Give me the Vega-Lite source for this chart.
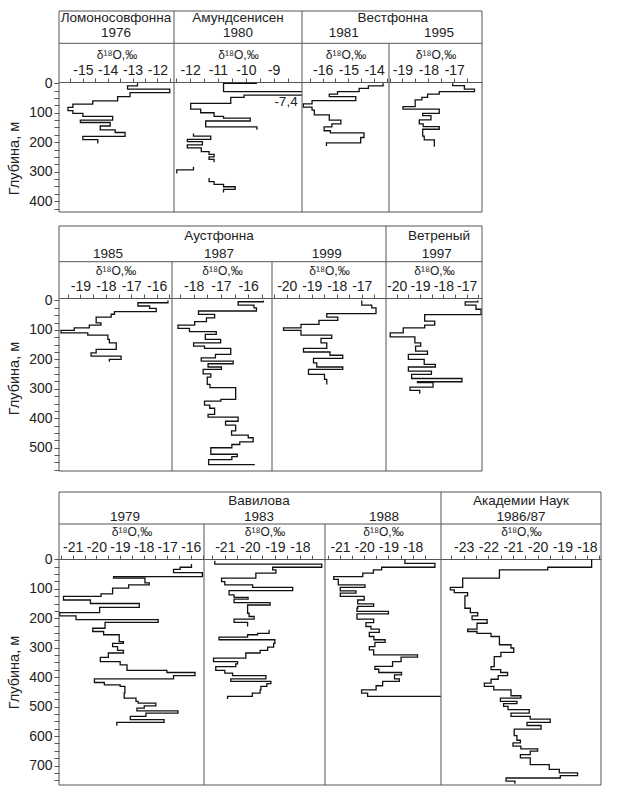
{
"$schema":"https://vega.github.io/schema/vega-lite/v6.json",
"padding":{"left":6,"top":10,"right":5,"bottom":5},
"data":{"values":[{}]},
"datasets":{"prof":[
{"p":"L76","s":1,"d":0,"v":-12.8},{"p":"L76","s":1,"d":9,"v":-13.2},{"p":"L76","s":1,"d":20,"v":-11.5},{"p":"L76","s":1,"d":32,"v":-13.1},{"p":"L76","s":1,"d":45,"v":-13.6},{"p":"L76","s":1,"d":60,"v":-14.6},{"p":"L76","s":1,"d":71,"v":-15.4},{"p":"L76","s":1,"d":82,"v":-15.6},{"p":"L76","s":1,"d":93,"v":-15.4},{"p":"L76","s":1,"d":102,"v":-15.0},{"p":"L76","s":1,"d":112,"v":-13.8},{"p":"L76","s":1,"d":125,"v":-15.1},{"p":"L76","s":1,"d":133,"v":-13.9},{"p":"L76","s":1,"d":145,"v":-14.3},{"p":"L76","s":1,"d":158,"v":-13.7},{"p":"L76","s":1,"d":167,"v":-13.3},{"p":"L76","s":1,"d":180,"v":-15.0},{"p":"L76","s":1,"d":191,"v":-14.4},{"p":"L76","s":1,"d":204,"v":-14.4},
{"p":"A80","s":1,"d":0,"v":-9.6},{"p":"A80","s":1,"d":0,"v":-10.8},{"p":"A80","s":1,"d":28,"v":-7.4},{"p":"A80","s":1,"d":40,"v":-10.06},{"p":"A80","s":1,"d":48,"v":-10.54},{"p":"A80","s":1,"d":68,"v":-11.98},{"p":"A80","s":1,"d":88,"v":-11.62},{"p":"A80","s":1,"d":100,"v":-11.14},{"p":"A80","s":1,"d":112,"v":-10.8},{"p":"A80","s":1,"d":118,"v":-9.84},{"p":"A80","s":1,"d":128,"v":-11.44},{"p":"A80","s":1,"d":148,"v":-9.6},{"p":"A80","s":1,"d":158,"v":-9.6},
{"p":"A80","s":2,"d":170,"v":-11.88},{"p":"A80","s":2,"d":179,"v":-11.26},{"p":"A80","s":2,"d":190,"v":-12.1},{"p":"A80","s":2,"d":198,"v":-11.56},{"p":"A80","s":2,"d":209,"v":-12.1},{"p":"A80","s":2,"d":219,"v":-11.6},{"p":"A80","s":2,"d":232,"v":-11.32},{"p":"A80","s":2,"d":241,"v":-11.14},{"p":"A80","s":2,"d":250,"v":-11.32},{"p":"A80","s":2,"d":258,"v":-11.14},{"p":"A80","s":2,"d":268,"v":-11.14},
{"p":"A80","s":3,"d":283,"v":-11.88},{"p":"A80","s":3,"d":294,"v":-12.48},{"p":"A80","s":3,"d":306,"v":-12.48},
{"p":"A80","s":4,"d":321,"v":-11.32},{"p":"A80","s":4,"d":334,"v":-11.14},{"p":"A80","s":4,"d":343,"v":-10.8},{"p":"A80","s":4,"d":351,"v":-10.38},{"p":"A80","s":4,"d":360,"v":-10.8},{"p":"A80","s":4,"d":371,"v":-10.8},
{"p":"W81","s":1,"d":0,"v":-13.65},{"p":"W81","s":1,"d":9,"v":-14.22},{"p":"W81","s":1,"d":17,"v":-14.58},{"p":"W81","s":1,"d":28,"v":-15.42},{"p":"W81","s":1,"d":37,"v":-15.74},{"p":"W81","s":1,"d":45,"v":-14.71},{"p":"W81","s":1,"d":59,"v":-16.41},{"p":"W81","s":1,"d":70,"v":-16.75},{"p":"W81","s":1,"d":81,"v":-16.41},{"p":"W81","s":1,"d":91,"v":-16.32},{"p":"W81","s":1,"d":107,"v":-15.74},{"p":"W81","s":1,"d":125,"v":-15.29},{"p":"W81","s":1,"d":138,"v":-15.64},{"p":"W81","s":1,"d":148,"v":-15.94},{"p":"W81","s":1,"d":161,"v":-15.7},{"p":"W81","s":1,"d":168,"v":-14.39},{"p":"W81","s":1,"d":184,"v":-14.52},{"p":"W81","s":1,"d":202,"v":-15.85},{"p":"W81","s":1,"d":213,"v":-15.85},
{"p":"W95","s":1,"d":0,"v":-17.06},{"p":"W95","s":1,"d":8,"v":-16.61},{"p":"W95","s":1,"d":20,"v":-16.22},{"p":"W95","s":1,"d":28,"v":-17.58},{"p":"W95","s":1,"d":37,"v":-18.03},{"p":"W95","s":1,"d":48,"v":-18.25},{"p":"W95","s":1,"d":56,"v":-18.51},{"p":"W95","s":1,"d":79,"v":-18.98},{"p":"W95","s":1,"d":88,"v":-17.58},{"p":"W95","s":1,"d":102,"v":-18.22},{"p":"W95","s":1,"d":110,"v":-17.9},{"p":"W95","s":1,"d":124,"v":-18.35},{"p":"W95","s":1,"d":138,"v":-18.2},{"p":"W95","s":1,"d":147,"v":-17.58},{"p":"W95","s":1,"d":156,"v":-18.22},{"p":"W95","s":1,"d":179,"v":-18.16},{"p":"W95","s":1,"d":192,"v":-17.77},{"p":"W95","s":1,"d":215,"v":-17.77},
{"p":"A85","s":1,"d":0,"v":-15.56},{"p":"A85","s":1,"d":8,"v":-16.74},{"p":"A85","s":1,"d":19,"v":-16.28},{"p":"A85","s":1,"d":27,"v":-16.02},{"p":"A85","s":1,"d":38,"v":-17.66},{"p":"A85","s":1,"d":47,"v":-17.79},{"p":"A85","s":1,"d":57,"v":-18.38},{"p":"A85","s":1,"d":76,"v":-18.19},{"p":"A85","s":1,"d":84,"v":-18.65},{"p":"A85","s":1,"d":93,"v":-19.24},{"p":"A85","s":1,"d":102,"v":-19.76},{"p":"A85","s":1,"d":110,"v":-18.71},{"p":"A85","s":1,"d":118,"v":-17.92},{"p":"A85","s":1,"d":132,"v":-17.86},{"p":"A85","s":1,"d":144,"v":-17.59},{"p":"A85","s":1,"d":166,"v":-18.38},{"p":"A85","s":1,"d":178,"v":-18.58},{"p":"A85","s":1,"d":189,"v":-17.4},{"p":"A85","s":1,"d":200,"v":-17.86},{"p":"A85","s":1,"d":208,"v":-17.86},
{"p":"A87","s":1,"d":0,"v":-15.45},{"p":"A87","s":1,"d":4.5,"v":-16.37},{"p":"A87","s":1,"d":16,"v":-15.79},{"p":"A87","s":1,"d":25,"v":-15.7},{"p":"A87","s":1,"d":36,"v":-17.82},{"p":"A87","s":1,"d":47.5,"v":-17.23},{"p":"A87","s":1,"d":59,"v":-17.53},{"p":"A87","s":1,"d":72,"v":-17.96},{"p":"A87","s":1,"d":84,"v":-18.57},{"p":"A87","s":1,"d":95,"v":-18.15},{"p":"A87","s":1,"d":106,"v":-17.17},{"p":"A87","s":1,"d":115,"v":-17.57},{"p":"A87","s":1,"d":132,"v":-17.01},{"p":"A87","s":1,"d":144,"v":-18.0},{"p":"A87","s":1,"d":155,"v":-17.6},{"p":"A87","s":1,"d":163,"v":-16.64},{"p":"A87","s":1,"d":183,"v":-17.2},{"p":"A87","s":1,"d":195,"v":-17.72},{"p":"A87","s":1,"d":206,"v":-16.55},{"p":"A87","s":1,"d":215,"v":-17.47},{"p":"A87","s":1,"d":226,"v":-16.98},{"p":"A87","s":1,"d":234,"v":-17.65},{"p":"A87","s":1,"d":249,"v":-17.37},{"p":"A87","s":1,"d":260,"v":-17.5},{"p":"A87","s":1,"d":285,"v":-17.4},{"p":"A87","s":1,"d":296,"v":-16.46},{"p":"A87","s":1,"d":336,"v":-17.0},{"p":"A87","s":1,"d":342,"v":-17.6},{"p":"A87","s":1,"d":355,"v":-17.41},{"p":"A87","s":1,"d":366,"v":-17.23},{"p":"A87","s":1,"d":387,"v":-17.47},{"p":"A87","s":1,"d":396,"v":-16.37},{"p":"A87","s":1,"d":410,"v":-16.83},{"p":"A87","s":1,"d":423,"v":-16.46},{"p":"A87","s":1,"d":443,"v":-16.61},{"p":"A87","s":1,"d":457,"v":-16.0},{"p":"A87","s":1,"d":466,"v":-15.82},{"p":"A87","s":1,"d":480,"v":-16.31},{"p":"A87","s":1,"d":489,"v":-16.6},{"p":"A87","s":1,"d":500,"v":-17.37},{"p":"A87","s":1,"d":522,"v":-16.4},{"p":"A87","s":1,"d":530,"v":-16.6},{"p":"A87","s":1,"d":540,"v":-17.45},{"p":"A87","s":1,"d":557,"v":-15.76},
{"p":"A99","s":1,"d":0,"v":-17.0},{"p":"A99","s":1,"d":16,"v":-16.6},{"p":"A99","s":1,"d":25,"v":-16.43},{"p":"A99","s":1,"d":45,"v":-18.4},{"p":"A99","s":1,"d":57,"v":-17.96},{"p":"A99","s":1,"d":68,"v":-18.71},{"p":"A99","s":1,"d":81,"v":-19.43},{"p":"A99","s":1,"d":93,"v":-20.13},{"p":"A99","s":1,"d":102,"v":-19.43},{"p":"A99","s":1,"d":118,"v":-18.2},{"p":"A99","s":1,"d":129,"v":-18.63},{"p":"A99","s":1,"d":144,"v":-18.4},{"p":"A99","s":1,"d":163,"v":-19.33},{"p":"A99","s":1,"d":175,"v":-18.27},{"p":"A99","s":1,"d":186,"v":-17.76},{"p":"A99","s":1,"d":197,"v":-18.93},{"p":"A99","s":1,"d":212,"v":-18.8},{"p":"A99","s":1,"d":226,"v":-17.76},{"p":"A99","s":1,"d":234,"v":-19.13},{"p":"A99","s":1,"d":251,"v":-18.49},{"p":"A99","s":1,"d":268,"v":-18.4},{"p":"A99","s":1,"d":285,"v":-18.4},
{"p":"V97","s":1,"d":0,"v":-16.52},{"p":"V97","s":1,"d":5,"v":-17.06},{"p":"V97","s":1,"d":16,"v":-16.6},{"p":"V97","s":1,"d":30,"v":-16.38},{"p":"V97","s":1,"d":48,"v":-18.8},{"p":"V97","s":1,"d":70,"v":-18.37},{"p":"V97","s":1,"d":84,"v":-18.8},{"p":"V97","s":1,"d":93,"v":-19.72},{"p":"V97","s":1,"d":110,"v":-20.28},{"p":"V97","s":1,"d":124,"v":-19.22},{"p":"V97","s":1,"d":144,"v":-18.97},{"p":"V97","s":1,"d":155,"v":-19.19},{"p":"V97","s":1,"d":172,"v":-18.68},{"p":"V97","s":1,"d":183,"v":-19.5},{"p":"V97","s":1,"d":200,"v":-18.82},{"p":"V97","s":1,"d":217,"v":-18.34},{"p":"V97","s":1,"d":226,"v":-19.5},{"p":"V97","s":1,"d":240,"v":-18.51},{"p":"V97","s":1,"d":251,"v":-19.36},{"p":"V97","s":1,"d":265,"v":-17.2},{"p":"V97","s":1,"d":276,"v":-19.11},{"p":"V97","s":1,"d":279,"v":-18.44},{"p":"V97","s":1,"d":294,"v":-19.43},{"p":"V97","s":1,"d":305,"v":-19.01},{"p":"V97","s":1,"d":317,"v":-19.01},
{"p":"V79","s":1,"d":16,"v":-15.97},{"p":"V79","s":1,"d":27,"v":-16.45},{"p":"V79","s":1,"d":34,"v":-16.73},{"p":"V79","s":1,"d":45,"v":-15.51},{"p":"V79","s":1,"d":59,"v":-19.27},{"p":"V79","s":1,"d":64,"v":-17.94},{"p":"V79","s":1,"d":80,"v":-17.76},{"p":"V79","s":1,"d":87,"v":-18.63},{"p":"V79","s":1,"d":98,"v":-19.31},{"p":"V79","s":1,"d":117,"v":-19.8},{"p":"V79","s":1,"d":126,"v":-21.39},{"p":"V79","s":1,"d":138,"v":-20.25},{"p":"V79","s":1,"d":150,"v":-18.18},{"p":"V79","s":1,"d":163,"v":-19.86},{"p":"V79","s":1,"d":181,"v":-21.55},{"p":"V79","s":1,"d":192,"v":-20.86},{"p":"V79","s":1,"d":205,"v":-17.38},{"p":"V79","s":1,"d":214,"v":-19.63},{"p":"V79","s":1,"d":234,"v":-20.15},{"p":"V79","s":1,"d":245,"v":-19.69},{"p":"V79","s":1,"d":256,"v":-19.03},{"p":"V79","s":1,"d":279,"v":-18.85},{"p":"V79","s":1,"d":285,"v":-19.31},{"p":"V79","s":1,"d":296,"v":-19.1},{"p":"V79","s":1,"d":309,"v":-18.85},{"p":"V79","s":1,"d":318,"v":-19.49},{"p":"V79","s":1,"d":333,"v":-19.83},{"p":"V79","s":1,"d":347,"v":-18.99},{"p":"V79","s":1,"d":358,"v":-18.7},{"p":"V79","s":1,"d":377,"v":-17.01},{"p":"V79","s":1,"d":384,"v":-15.82},{"p":"V79","s":1,"d":395,"v":-16.73},{"p":"V79","s":1,"d":406,"v":-20.08},{"p":"V79","s":1,"d":418,"v":-19.66},{"p":"V79","s":1,"d":426,"v":-18.99},{"p":"V79","s":1,"d":431,"v":-18.79},{"p":"V79","s":1,"d":454,"v":-18.82},{"p":"V79","s":1,"d":471,"v":-18.32},{"p":"V79","s":1,"d":482,"v":-18.23},{"p":"V79","s":1,"d":488,"v":-17.48},{"p":"V79","s":1,"d":497,"v":-17.97},{"p":"V79","s":1,"d":505,"v":-18.28},{"p":"V79","s":1,"d":514,"v":-16.54},{"p":"V79","s":1,"d":522,"v":-17.9},{"p":"V79","s":1,"d":533,"v":-18.56},{"p":"V79","s":1,"d":544,"v":-17.13},{"p":"V79","s":1,"d":553,"v":-19.13},{"p":"V79","s":1,"d":565,"v":-19.13},
{"p":"V83","s":1,"d":4.5,"v":-21.4},{"p":"V83","s":1,"d":16,"v":-17.13},{"p":"V83","s":1,"d":27,"v":-19.09},{"p":"V83","s":1,"d":36,"v":-18.96},{"p":"V83","s":1,"d":47,"v":-19.76},{"p":"V83","s":1,"d":64,"v":-21.13},{"p":"V83","s":1,"d":76,"v":-21.0},{"p":"V83","s":1,"d":87,"v":-19.89},{"p":"V83","s":1,"d":95,"v":-18.29},{"p":"V83","s":1,"d":106,"v":-20.83},{"p":"V83","s":1,"d":121,"v":-20.63},{"p":"V83","s":1,"d":129,"v":-20.07},{"p":"V83","s":1,"d":135,"v":-20.63},{"p":"V83","s":1,"d":147,"v":-19.19},{"p":"V83","s":1,"d":155,"v":-20.09},{"p":"V83","s":1,"d":183,"v":-20.03},{"p":"V83","s":1,"d":194,"v":-19.83},{"p":"V83","s":1,"d":203,"v":-20.63},{"p":"V83","s":1,"d":214,"v":-20.09},{"p":"V83","s":1,"d":228,"v":-20.09},
{"p":"V83","s":2,"d":239,"v":-19.23},{"p":"V83","s":2,"d":251,"v":-19.69},{"p":"V83","s":2,"d":256,"v":-20.09},{"p":"V83","s":2,"d":264,"v":-21.23},{"p":"V83","s":2,"d":273,"v":-19.0},{"p":"V83","s":2,"d":285,"v":-19.05},{"p":"V83","s":2,"d":298,"v":-19.29},{"p":"V83","s":2,"d":309,"v":-19.59},{"p":"V83","s":2,"d":318,"v":-20.16},{"p":"V83","s":2,"d":335,"v":-21.45},{"p":"V83","s":2,"d":347,"v":-20.49},{"p":"V83","s":2,"d":355,"v":-20.56},{"p":"V83","s":2,"d":364,"v":-21.36},{"p":"V83","s":2,"d":377,"v":-21.0},{"p":"V83","s":2,"d":386,"v":-20.69},{"p":"V83","s":2,"d":395,"v":-19.36},{"p":"V83","s":2,"d":406,"v":-20.76},{"p":"V83","s":2,"d":414,"v":-19.16},{"p":"V83","s":2,"d":422,"v":-19.32},{"p":"V83","s":2,"d":431,"v":-19.56},{"p":"V83","s":2,"d":443,"v":-19.59},{"p":"V83","s":2,"d":454,"v":-19.9},{"p":"V83","s":2,"d":465,"v":-20.89},{"p":"V83","s":2,"d":474,"v":-20.89},
{"p":"V88","s":1,"d":0,"v":-18.32},{"p":"V88","s":1,"d":13.5,"v":-17.08},{"p":"V88","s":1,"d":27,"v":-19.28},{"p":"V88","s":1,"d":36,"v":-19.62},{"p":"V88","s":1,"d":47,"v":-20.06},{"p":"V88","s":1,"d":59,"v":-21.26},{"p":"V88","s":1,"d":68,"v":-21.07},{"p":"V88","s":1,"d":87,"v":-19.97},{"p":"V88","s":1,"d":95,"v":-20.99},{"p":"V88","s":1,"d":107,"v":-20.34},{"p":"V88","s":1,"d":115,"v":-20.99},{"p":"V88","s":1,"d":126,"v":-20.0},{"p":"V88","s":1,"d":138,"v":-20.27},{"p":"V88","s":1,"d":151,"v":-19.61},{"p":"V88","s":1,"d":160,"v":-20.27},{"p":"V88","s":1,"d":166,"v":-20.3},{"p":"V88","s":1,"d":177,"v":-19.0},{"p":"V88","s":1,"d":185,"v":-20.3},{"p":"V88","s":1,"d":203,"v":-19.61},{"p":"V88","s":1,"d":215,"v":-19.93},{"p":"V88","s":1,"d":228,"v":-19.72},{"p":"V88","s":1,"d":237,"v":-19.38},{"p":"V88","s":1,"d":248,"v":-19.79},{"p":"V88","s":1,"d":262,"v":-19.6},{"p":"V88","s":1,"d":273,"v":-19.14},{"p":"V88","s":1,"d":282,"v":-19.56},{"p":"V88","s":1,"d":296,"v":-19.79},{"p":"V88","s":1,"d":307,"v":-19.61},{"p":"V88","s":1,"d":324,"v":-17.8},{"p":"V88","s":1,"d":332,"v":-18.48},{"p":"V88","s":1,"d":347,"v":-18.83},{"p":"V88","s":1,"d":363,"v":-19.56},{"p":"V88","s":1,"d":373,"v":-19.4},{"p":"V88","s":1,"d":384,"v":-18.46},{"p":"V88","s":1,"d":392,"v":-18.75},{"p":"V88","s":1,"d":406,"v":-18.55},{"p":"V88","s":1,"d":414,"v":-19.24},{"p":"V88","s":1,"d":429,"v":-19.51},{"p":"V88","s":1,"d":443,"v":-20.11},{"p":"V88","s":1,"d":454,"v":-19.86},{"p":"V88","s":1,"d":465,"v":-16.5},
{"p":"AN","s":1,"d":0,"v":-17.81},{"p":"AN","s":1,"d":27,"v":-19.59},{"p":"AN","s":1,"d":36,"v":-21.55},{"p":"AN","s":1,"d":64,"v":-23.04},{"p":"AN","s":1,"d":95,"v":-23.54},{"p":"AN","s":1,"d":104,"v":-23.38},{"p":"AN","s":1,"d":113,"v":-22.84},{"p":"AN","s":1,"d":124,"v":-22.95},{"p":"AN","s":1,"d":166,"v":-22.73},{"p":"AN","s":1,"d":181,"v":-22.43},{"p":"AN","s":1,"d":192,"v":-22.66},{"p":"AN","s":1,"d":205,"v":-22.05},{"p":"AN","s":1,"d":217,"v":-22.46},{"p":"AN","s":1,"d":237,"v":-22.84},{"p":"AN","s":1,"d":245,"v":-22.46},{"p":"AN","s":1,"d":251,"v":-21.89},{"p":"AN","s":1,"d":262,"v":-21.55},{"p":"AN","s":1,"d":290,"v":-21.08},{"p":"AN","s":1,"d":301,"v":-20.97},{"p":"AN","s":1,"d":316,"v":-21.49},{"p":"AN","s":1,"d":330,"v":-21.76},{"p":"AN","s":1,"d":364,"v":-21.89},{"p":"AN","s":1,"d":374,"v":-21.5},{"p":"AN","s":1,"d":384,"v":-21.22},{"p":"AN","s":1,"d":395,"v":-21.6},{"p":"AN","s":1,"d":407,"v":-21.89},{"p":"AN","s":1,"d":420,"v":-22.16},{"p":"AN","s":1,"d":431,"v":-21.78},{"p":"AN","s":1,"d":443,"v":-21.08},{"p":"AN","s":1,"d":463,"v":-20.68},{"p":"AN","s":1,"d":471,"v":-21.51},{"p":"AN","s":1,"d":482,"v":-20.84},{"p":"AN","s":1,"d":490,"v":-21.38},{"p":"AN","s":1,"d":499,"v":-21.2},{"p":"AN","s":1,"d":510,"v":-20.34},{"p":"AN","s":1,"d":522,"v":-21.08},{"p":"AN","s":1,"d":533,"v":-20.3},{"p":"AN","s":1,"d":542,"v":-19.49},{"p":"AN","s":1,"d":553,"v":-20.43},{"p":"AN","s":1,"d":564,"v":-19.86},{"p":"AN","s":1,"d":576,"v":-20.95},{"p":"AN","s":1,"d":598,"v":-20.84},{"p":"AN","s":1,"d":614,"v":-20.7},{"p":"AN","s":1,"d":623,"v":-21.0},{"p":"AN","s":1,"d":634,"v":-20.68},{"p":"AN","s":1,"d":643,"v":-20.0},{"p":"AN","s":1,"d":651,"v":-20.3},{"p":"AN","s":1,"d":663,"v":-20.7},{"p":"AN","s":1,"d":674,"v":-20.3},{"p":"AN","s":1,"d":697,"v":-19.53},{"p":"AN","s":1,"d":713,"v":-19.12},{"p":"AN","s":1,"d":725,"v":-18.38},{"p":"AN","s":1,"d":734,"v":-19.08},{"p":"AN","s":1,"d":742,"v":-21.28},{"p":"AN","s":1,"d":753,"v":-20.92},{"p":"AN","s":1,"d":762,"v":-20.92}
]},
"spacing":9,
"vconcat":[
{"hconcat":[
 {"width":115,"height":201,"resolve":{"axis":{"x":"independent","y":"independent"}},"layer":[
  {"data":{"name":"prof"},"transform":[{"filter":"datum.p === 'L76'"}],"mark":{"type":"line","interpolate":"step-before","clip":true,"color":"#111","strokeWidth":1.3},
   "encoding":{"x":{"field":"v","type":"quantitative","scale":{"domain":[-15.96,-11.33],"nice":false,"zero":false},"axis":{"orient":"top","offset":-71,"values":[-15.5,-15,-14.5,-14,-13.5,-13,-12.5,-12,-11.5],"labelExpr":"datum.value % 1 === 0 ? '' + datum.value : ''","title":"δ¹⁸O,‰"}},
   "y":{"field":"d","type":"quantitative","scale":{"domain":[-245.3,436.75],"reverse":true,"nice":false,"zero":false},"axis":{"orient":"left","values":[0,25,50,75,100,125,150,175,200,225,250,275,300,325,350,375,400,425],"labelExpr":"datum.value % 100 === 0 ? datum.label : ''","title":"Глубина, м","titleX":-45,"titleY":147,"titleBaseline":"middle"}},
   "detail":{"field":"s"},"order":{"value":null}}},
  {"mark":"rule","encoding":{"y":{"datum":-245.3,"axis":null}}},
  {"mark":"rule","encoding":{"y":{"datum":-135.7,"axis":null}}},
  {"mark":"rule","encoding":{"y":{"datum":436.75,"axis":null}}},
  {"mark":"rule","encoding":{"x":{"datum":-15.96,"axis":null},"y":{"datum":-245.3,"axis":null},"y2":{"datum":436.75}}},
  {"mark":{"type":"text","text":"Ломоносовфонна"},"encoding":{"x":{"datum":-13.665,"axis":null},"y":{"datum":-220.6,"axis":null}}},
  {"mark":{"type":"text","text":"1976"},"encoding":{"x":{"datum":-13.665,"axis":null},"y":{"datum":-169,"axis":null}}}
 ]},
 {"width":128,"height":201,"resolve":{"axis":{"x":"independent","y":"independent"}},"layer":[
  {"data":{"name":"prof"},"transform":[{"filter":"datum.p === 'A80'"}],"mark":{"type":"line","interpolate":"step-before","clip":true,"color":"#111","strokeWidth":1.3},
   "encoding":{"x":{"field":"v","type":"quantitative","scale":{"domain":[-12.58,-7.98],"nice":false,"zero":false},"axis":{"orient":"top","offset":-71,"values":[-12.5,-12,-11.5,-11,-10.5,-10,-9.5,-9,-8.5],"labelExpr":"datum.value % 1 === 0 ? '' + datum.value : ''","title":"δ¹⁸O,‰"}},
   "y":{"field":"d","type":"quantitative","scale":{"domain":[-245.3,436.75],"reverse":true,"nice":false,"zero":false},"axis":null},
   "detail":{"field":"s"},"order":{"value":null}}},
  {"mark":"rule","encoding":{"y":{"datum":-245.3,"axis":null}}},
  {"mark":"rule","encoding":{"y":{"datum":-135.7,"axis":null}}},
  {"mark":"rule","encoding":{"y":{"datum":436.75,"axis":null}}},
  {"mark":"rule","encoding":{"x":{"datum":-12.58,"axis":null},"y":{"datum":-245.3,"axis":null},"y2":{"datum":436.75}}},
  {"mark":{"type":"text","text":"Амундсенисен"},"encoding":{"x":{"datum":-10.28,"axis":null},"y":{"datum":-220.6,"axis":null}}},
  {"mark":{"type":"text","text":"1980"},"encoding":{"x":{"datum":-10.28,"axis":null},"y":{"datum":-169,"axis":null}}},
  {"mark":{"type":"text","text":"-7,4"},"encoding":{"x":{"datum":-8.555,"axis":null},"y":{"datum":62,"axis":null}}}
 ]},
 {"width":87,"height":201,"resolve":{"axis":{"x":"independent","y":"independent"}},"layer":[
  {"data":{"name":"prof"},"transform":[{"filter":"datum.p === 'W81'"}],"mark":{"type":"line","interpolate":"step-before","clip":true,"color":"#111","strokeWidth":1.3},
   "encoding":{"x":{"field":"v","type":"quantitative","scale":{"domain":[-16.8,-13.42],"nice":false,"zero":false},"axis":{"orient":"top","offset":-71,"values":[-16.5,-16,-15.5,-15,-14.5,-14,-13.5],"labelExpr":"datum.value % 1 === 0 ? '' + datum.value : ''","title":"δ¹⁸O,‰"}},
   "y":{"field":"d","type":"quantitative","scale":{"domain":[-245.3,436.75],"reverse":true,"nice":false,"zero":false},"axis":null},
   "detail":{"field":"s"},"order":{"value":null}}},
  {"mark":"rule","encoding":{"y":{"datum":-245.3,"axis":null}}},
  {"mark":"rule","encoding":{"y":{"datum":-135.7,"axis":null}}},
  {"mark":"rule","encoding":{"y":{"datum":436.75,"axis":null}}},
  {"mark":"rule","encoding":{"x":{"datum":-16.8,"axis":null},"y":{"datum":-245.3,"axis":null},"y2":{"datum":436.75}}},
  {"mark":{"type":"text","text":"1981"},"encoding":{"x":{"datum":-15.18,"axis":null},"y":{"datum":-169,"axis":null}}}
 ]},
 {"width":93,"height":201,"resolve":{"axis":{"x":"independent","y":"independent"}},"layer":[
  {"data":{"name":"prof"},"transform":[{"filter":"datum.p === 'W95'"}],"mark":{"type":"line","interpolate":"step-before","clip":true,"color":"#111","strokeWidth":1.3},
   "encoding":{"x":{"field":"v","type":"quantitative","scale":{"domain":[-19.52,-15.93],"nice":false,"zero":false},"axis":{"orient":"top","offset":-71,"values":[-19.5,-19,-18.5,-18,-17.5,-17,-16.5],"labelExpr":"datum.value % 1 === 0 ? '' + datum.value : ''","title":"δ¹⁸O,‰"}},
   "y":{"field":"d","type":"quantitative","scale":{"domain":[-245.3,436.75],"reverse":true,"nice":false,"zero":false},"axis":null},
   "detail":{"field":"s"},"order":{"value":null}}},
  {"mark":"rule","encoding":{"y":{"datum":-245.3,"axis":null}}},
  {"mark":"rule","encoding":{"y":{"datum":-135.7,"axis":null}}},
  {"mark":"rule","encoding":{"y":{"datum":436.75,"axis":null}}},
  {"mark":"rule","encoding":{"x":{"datum":-19.52,"axis":null},"y":{"datum":-135.7,"axis":null},"y2":{"datum":436.75}}},
  {"mark":"rule","encoding":{"x":{"datum":-15.93,"axis":null},"y":{"datum":-245.3,"axis":null},"y2":{"datum":436.75}}},
  {"mark":{"type":"text","text":"Вестфонна"},"encoding":{"x":{"datum":-19.377,"axis":null},"y":{"datum":-220.6,"axis":null}}},
  {"mark":{"type":"text","text":"1995"},"encoding":{"x":{"datum":-17.59,"axis":null},"y":{"datum":-169,"axis":null}}}
 ]}
],"spacing":0,"bounds":"flush"},
{"vconcat":[
{"hconcat":[
 {"width":113,"height":245,"resolve":{"axis":{"x":"independent","y":"independent"}},"layer":[
  {"data":{"name":"prof"},"transform":[{"filter":"datum.p === 'A85'"}],"mark":{"type":"line","interpolate":"step-before","clip":true,"color":"#111","strokeWidth":1.3},
   "encoding":{"x":{"field":"v","type":"quantitative","scale":{"domain":[-19.84,-15.4],"nice":false,"zero":false},"axis":{"orient":"top","offset":-72,"values":[-19.5,-19,-18.5,-18,-17.5,-17,-16.5,-16,-15.5],"labelExpr":"datum.value % 1 === 0 ? '' + datum.value : ''","title":"δ¹⁸O,‰"}},
   "y":{"field":"d","type":"quantitative","scale":{"domain":[-252.5,578.85],"reverse":true,"nice":false,"zero":false},"axis":{"orient":"left","values":[0,25,50,75,100,125,150,175,200,225,250,275,300,325,350,375,400,425,450,475,500,525,550,575],"labelExpr":"datum.value % 100 === 0 ? datum.label : ''","title":"Глубина, м","titleX":-45,"titleY":152,"titleBaseline":"middle"}},
   "detail":{"field":"s"},"order":{"value":null}}},
  {"mark":"rule","encoding":{"y":{"datum":-252.5,"axis":null}}},
  {"mark":"rule","encoding":{"y":{"datum":-131.3,"axis":null}}},
  {"mark":"rule","encoding":{"y":{"datum":578.85,"axis":null}}},
  {"mark":"rule","encoding":{"x":{"datum":-19.84,"axis":null},"y":{"datum":-252.5,"axis":null},"y2":{"datum":578.85}}},
  {"mark":{"type":"text","text":"1985"},"encoding":{"x":{"datum":-17.915,"axis":null},"y":{"datum":-156,"axis":null}}}
 ]},
 {"width":100,"height":245,"resolve":{"axis":{"x":"independent","y":"independent"}},"layer":[
  {"data":{"name":"prof"},"transform":[{"filter":"datum.p === 'A87'"}],"mark":{"type":"line","interpolate":"step-before","clip":true,"color":"#111","strokeWidth":1.3},
   "encoding":{"x":{"field":"v","type":"quantitative","scale":{"domain":[-18.79,-15.13],"nice":false,"zero":false},"axis":{"orient":"top","offset":-72,"values":[-18.5,-18,-17.5,-17,-16.5,-16,-15.5],"labelExpr":"datum.value % 1 === 0 ? '' + datum.value : ''","title":"δ¹⁸O,‰"}},
   "y":{"field":"d","type":"quantitative","scale":{"domain":[-252.5,578.85],"reverse":true,"nice":false,"zero":false},"axis":null},
   "detail":{"field":"s"},"order":{"value":null}}},
  {"mark":"rule","encoding":{"y":{"datum":-252.5,"axis":null}}},
  {"mark":"rule","encoding":{"y":{"datum":-131.3,"axis":null}}},
  {"mark":"rule","encoding":{"y":{"datum":578.85,"axis":null}}},
  {"mark":"rule","encoding":{"x":{"datum":-18.79,"axis":null},"y":{"datum":-131.3,"axis":null},"y2":{"datum":578.85}}},
  {"mark":{"type":"text","text":"Аустфонна"},"encoding":{"x":{"datum":-17.07,"axis":null},"y":{"datum":-218.5,"axis":null}}},
  {"mark":{"type":"text","text":"1987"},"encoding":{"x":{"datum":-17.07,"axis":null},"y":{"datum":-156,"axis":null}}}
 ]},
 {"width":114,"height":245,"resolve":{"axis":{"x":"independent","y":"independent"}},"layer":[
  {"data":{"name":"prof"},"transform":[{"filter":"datum.p === 'A99'"}],"mark":{"type":"line","interpolate":"step-before","clip":true,"color":"#111","strokeWidth":1.3},
   "encoding":{"x":{"field":"v","type":"quantitative","scale":{"domain":[-20.59,-16.03],"nice":false,"zero":false},"axis":{"orient":"top","offset":-72,"values":[-20.5,-20,-19.5,-19,-18.5,-18,-17.5,-17,-16.5],"labelExpr":"datum.value % 1 === 0 ? '' + datum.value : ''","title":"δ¹⁸O,‰"}},
   "y":{"field":"d","type":"quantitative","scale":{"domain":[-252.5,578.85],"reverse":true,"nice":false,"zero":false},"axis":null},
   "detail":{"field":"s"},"order":{"value":null}}},
  {"mark":"rule","encoding":{"y":{"datum":-252.5,"axis":null}}},
  {"mark":"rule","encoding":{"y":{"datum":-131.3,"axis":null}}},
  {"mark":"rule","encoding":{"y":{"datum":578.85,"axis":null}}},
  {"mark":"rule","encoding":{"x":{"datum":-20.59,"axis":null},"y":{"datum":-131.3,"axis":null},"y2":{"datum":578.85}}},
  {"mark":{"type":"text","text":"1999"},"encoding":{"x":{"datum":-18.4,"axis":null},"y":{"datum":-156,"axis":null}}}
 ]},
 {"width":96,"height":245,"resolve":{"axis":{"x":"independent","y":"independent"}},"layer":[
  {"data":{"name":"prof"},"transform":[{"filter":"datum.p === 'V97'"}],"mark":{"type":"line","interpolate":"step-before","clip":true,"color":"#111","strokeWidth":1.3},
   "encoding":{"x":{"field":"v","type":"quantitative","scale":{"domain":[-20.46,-16.34],"nice":false,"zero":false},"axis":{"orient":"top","offset":-72,"values":[-20,-19.5,-19,-18.5,-18,-17.5,-17,-16.5],"labelExpr":"datum.value % 1 === 0 ? '' + datum.value : ''","title":"δ¹⁸O,‰"}},
   "y":{"field":"d","type":"quantitative","scale":{"domain":[-252.5,578.85],"reverse":true,"nice":false,"zero":false},"axis":null},
   "detail":{"field":"s"},"order":{"value":null}}},
  {"mark":"rule","encoding":{"y":{"datum":-252.5,"axis":null}}},
  {"mark":"rule","encoding":{"y":{"datum":-131.3,"axis":null}}},
  {"mark":"rule","encoding":{"y":{"datum":578.85,"axis":null}}},
  {"mark":"rule","encoding":{"x":{"datum":-20.46,"axis":null},"y":{"datum":-252.5,"axis":null},"y2":{"datum":578.85}}},
  {"mark":"rule","encoding":{"x":{"datum":-16.34,"axis":null},"y":{"datum":-252.5,"axis":null},"y2":{"datum":578.85}}},
  {"mark":{"type":"text","text":"Ветреный"},"encoding":{"x":{"datum":-18.185,"axis":null},"y":{"datum":-218.5,"axis":null}}},
  {"mark":{"type":"text","text":"1997"},"encoding":{"x":{"datum":-18.284,"axis":null},"y":{"datum":-156,"axis":null}}}
 ]}
],"spacing":0,"bounds":"flush"},
{"hconcat":[
 {"width":145,"height":293,"resolve":{"axis":{"x":"independent","y":"independent"}},"layer":[
  {"data":{"name":"prof"},"transform":[{"filter":"datum.p === 'V79'"}],"mark":{"type":"line","interpolate":"step-before","clip":true,"color":"#111","strokeWidth":1.3},
   "encoding":{"x":{"field":"v","type":"quantitative","scale":{"domain":[-21.58,-15.44],"nice":false,"zero":false},"axis":{"orient":"top","offset":-67,"values":[-21.5,-21,-20.5,-20,-19.5,-19,-18.5,-18,-17.5,-17,-16.5,-16,-15.5],"labelExpr":"datum.value % 1 === 0 ? '' + datum.value : ''","title":"δ¹⁸O,‰"}},
   "y":{"field":"d","type":"quantitative","scale":{"domain":[-228.4,765.83],"reverse":true,"nice":false,"zero":false},"axis":{"orient":"left","values":[0,25,50,75,100,125,150,175,200,225,250,275,300,325,350,375,400,425,450,475,500,525,550,575,600,625,650,675,700,725,750],"labelExpr":"datum.value % 100 === 0 ? datum.label : ''","title":"Глубина, м","titleX":-45,"titleY":180,"titleBaseline":"middle"}},
   "detail":{"field":"s"},"order":{"value":null}}},
  {"mark":"rule","encoding":{"y":{"datum":-228.4,"axis":null}}},
  {"mark":"rule","encoding":{"y":{"datum":-119.8,"axis":null}}},
  {"mark":"rule","encoding":{"y":{"datum":765.83,"axis":null}}},
  {"mark":"rule","encoding":{"x":{"datum":-21.58,"axis":null},"y":{"datum":-228.4,"axis":null},"y2":{"datum":765.83}}},
  {"mark":{"type":"text","text":"1979"},"encoding":{"x":{"datum":-18.785,"axis":null},"y":{"datum":-143.5,"axis":null}}}
 ]},
 {"width":121,"height":293,"resolve":{"axis":{"x":"independent","y":"independent"}},"layer":[
  {"data":{"name":"prof"},"transform":[{"filter":"datum.p === 'V83'"}],"mark":{"type":"line","interpolate":"step-before","clip":true,"color":"#111","strokeWidth":1.3},
   "encoding":{"x":{"field":"v","type":"quantitative","scale":{"domain":[-21.83,-17.0],"nice":false,"zero":false},"axis":{"orient":"top","offset":-67,"values":[-21.5,-21,-20.5,-20,-19.5,-19,-18.5,-18,-17.5],"labelExpr":"datum.value % 1 === 0 ? '' + datum.value : ''","title":"δ¹⁸O,‰"}},
   "y":{"field":"d","type":"quantitative","scale":{"domain":[-228.4,765.83],"reverse":true,"nice":false,"zero":false},"axis":null},
   "detail":{"field":"s"},"order":{"value":null}}},
  {"mark":"rule","encoding":{"y":{"datum":-228.4,"axis":null}}},
  {"mark":"rule","encoding":{"y":{"datum":-119.8,"axis":null}}},
  {"mark":"rule","encoding":{"y":{"datum":765.83,"axis":null}}},
  {"mark":"rule","encoding":{"x":{"datum":-21.83,"axis":null},"y":{"datum":-119.8,"axis":null},"y2":{"datum":765.83}}},
  {"mark":{"type":"text","text":"Вавилова"},"encoding":{"x":{"datum":-19.635,"axis":null},"y":{"datum":-197.8,"axis":null}}},
  {"mark":{"type":"text","text":"1983"},"encoding":{"x":{"datum":-19.635,"axis":null},"y":{"datum":-143.5,"axis":null}}}
 ]},
 {"width":116,"height":293,"resolve":{"axis":{"x":"independent","y":"independent"}},"layer":[
  {"data":{"name":"prof"},"transform":[{"filter":"datum.p === 'V88'"}],"mark":{"type":"line","interpolate":"step-before","clip":true,"color":"#111","strokeWidth":1.3},
   "encoding":{"x":{"field":"v","type":"quantitative","scale":{"domain":[-21.62,-16.83],"nice":false,"zero":false},"axis":{"orient":"top","offset":-67,"values":[-21.5,-21,-20.5,-20,-19.5,-19,-18.5,-18,-17.5],"labelExpr":"datum.value % 1 === 0 ? '' + datum.value : ''","title":"δ¹⁸O,‰"}},
   "y":{"field":"d","type":"quantitative","scale":{"domain":[-228.4,765.83],"reverse":true,"nice":false,"zero":false},"axis":null},
   "detail":{"field":"s"},"order":{"value":null}}},
  {"mark":"rule","encoding":{"y":{"datum":-228.4,"axis":null}}},
  {"mark":"rule","encoding":{"y":{"datum":-119.8,"axis":null}}},
  {"mark":"rule","encoding":{"y":{"datum":765.83,"axis":null}}},
  {"mark":"rule","encoding":{"x":{"datum":-21.62,"axis":null},"y":{"datum":-119.8,"axis":null},"y2":{"datum":765.83}}},
  {"mark":{"type":"text","text":"1988"},"encoding":{"x":{"datum":-19.184,"axis":null},"y":{"datum":-143.5,"axis":null}}}
 ]},
 {"width":160,"height":293,"resolve":{"axis":{"x":"independent","y":"independent"}},"layer":[
  {"data":{"name":"prof"},"transform":[{"filter":"datum.p === 'AN'"}],"mark":{"type":"line","interpolate":"step-before","clip":true,"color":"#111","strokeWidth":1.3},
   "encoding":{"x":{"field":"v","type":"quantitative","scale":{"domain":[-23.92,-17.43],"nice":false,"zero":false},"axis":{"orient":"top","offset":-67,"values":[-23.5,-23,-22.5,-22,-21.5,-21,-20.5,-20,-19.5,-19,-18.5,-18,-17.5],"labelExpr":"datum.value % 1 === 0 ? '' + datum.value : ''","title":"δ¹⁸O,‰"}},
   "y":{"field":"d","type":"quantitative","scale":{"domain":[-228.4,765.83],"reverse":true,"nice":false,"zero":false},"axis":null},
   "detail":{"field":"s"},"order":{"value":null}}},
  {"mark":"rule","encoding":{"y":{"datum":-228.4,"axis":null}}},
  {"mark":"rule","encoding":{"y":{"datum":-119.8,"axis":null}}},
  {"mark":"rule","encoding":{"y":{"datum":765.83,"axis":null}}},
  {"mark":"rule","encoding":{"x":{"datum":-23.92,"axis":null},"y":{"datum":-228.4,"axis":null},"y2":{"datum":765.83}}},
  {"mark":"rule","encoding":{"x":{"datum":-17.43,"axis":null},"y":{"datum":-228.4,"axis":null},"y2":{"datum":765.83}}},
  {"mark":{"type":"text","text":"Академии Наук"},"encoding":{"x":{"datum":-20.675,"axis":null},"y":{"datum":-197.8,"axis":null}}},
  {"mark":{"type":"text","text":"1986/87"},"encoding":{"x":{"datum":-20.675,"axis":null},"y":{"datum":-143.5,"axis":null}}}
 ]}
],"spacing":0,"bounds":"flush"}
],"spacing":14}
],
"config":{
 "view":{"stroke":null},
 "font":"Liberation Sans",
 "axis":{"grid":false,"labelColor":"#222","titleColor":"#222","domainColor":"#555","tickColor":"#555","titleFontWeight":"normal","labelOverlap":false,"labelFlush":false,"labelFont":"Liberation Sans","titleFont":"Liberation Sans"},
 "axisX":{"tickSize":4,"labelPadding":1,"labelFontSize":14,"titleFontSize":12,"titlePadding":2},
 "axisY":{"tickSize":5,"labelPadding":2,"labelFontSize":14,"titleFontSize":14.5,"domain":false},
 "rule":{"color":"#555","strokeWidth":1},
 "text":{"font":"Liberation Sans","color":"#222","fontSize":13.5,"baseline":"middle","align":"center"}
}
}
